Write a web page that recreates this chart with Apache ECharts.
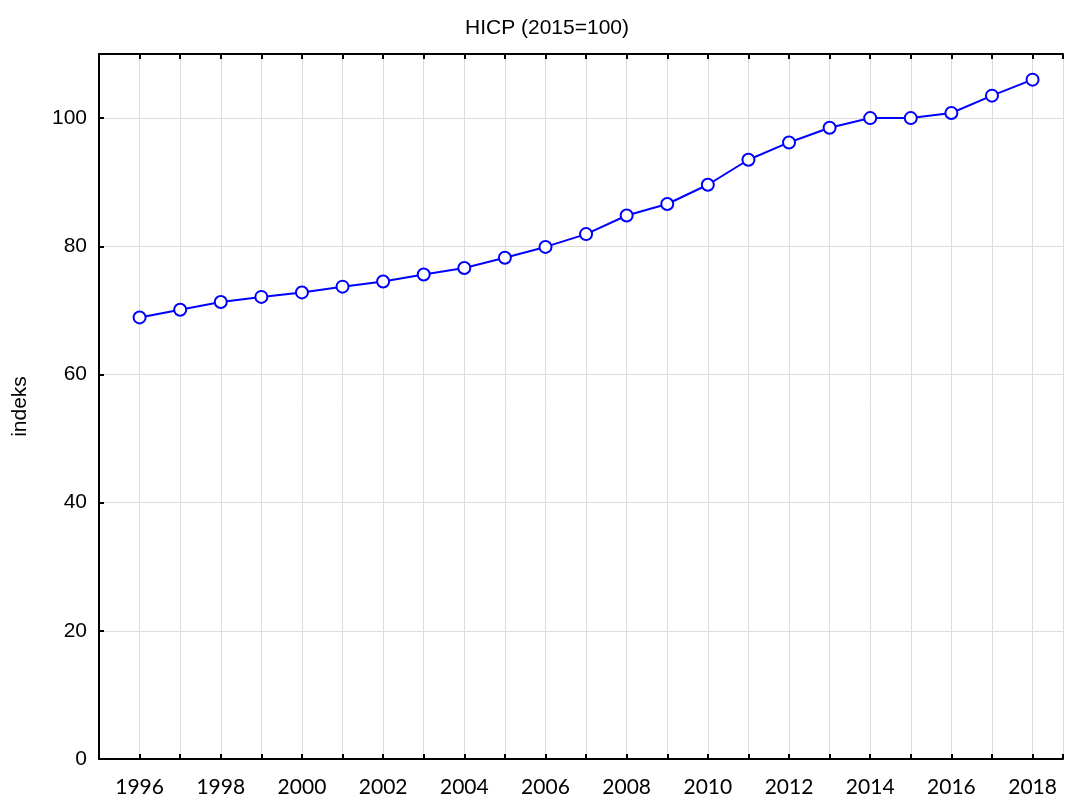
<!DOCTYPE html>
<html>
<head>
<meta charset="utf-8">
<title>HICP (2015=100)</title>
<script src="https://cdn.jsdelivr.net/npm/echarts@6/dist/echarts.min.js"></script>
<style>
  html, body { margin: 0; padding: 0; background: #fff; }
  #chart { width: 1066px; height: 798px; }
</style>
</head>
<body>
<div id="chart"></div>
<script>
// lata i wartości indeksu
var lata = [1996, 1997, 1998, 1999, 2000, 2001, 2002, 2003, 2004, 2005, 2006, 2007,
            2008, 2009, 2010, 2011, 2012, 2013, 2014, 2015, 2016, 2017, 2018];
var hicp = [68.9, 70.1, 71.3, 72.1, 72.8, 73.7, 74.5, 75.6, 76.6, 78.2, 79.9, 81.9,
            84.8, 86.6, 89.6, 93.5, 96.2, 98.5, 100.0, 100.0, 100.8, 103.5, 106.0];
var osY = [0, 20, 40, 60, 80, 100];

var punkty = lata.map(function (rok, i) {
    return [rok, hicp[i]];
});

var chart = echarts.init(document.getElementById('chart'));

// oś X ucięta przy prawej krawędzi obrazka
var xMin = 1995, xMax = 2018.75;

var option = {
    backgroundColor: '#fff',
    animation: false,
    title: {
        text: 'HICP (2015=100)',
        left: 542,
        textAlign: 'center',
        top: 13,
        textStyle: {
            fontFamily: 'Liberation Sans',
            fontWeight: 'normal',
            fontSize: 21,
            color: '#000'
        }
    },
    grid: {
        left: 99,
        top: 54,
        right: 0,
        bottom: 38,
        containLabel: false
    },
    xAxis: [{
        type: 'value',
        min: xMin,
        max: xMax,
        interval: 1,
        axisLine: { onZero: false, lineStyle: { color: '#000', width: 2 } },
        axisTick: { inside: true, length: 5, lineStyle: { color: '#000', width: 2 } },
        splitLine: { show: true, lineStyle: { color: '#dcdcdc', width: 1 } },
        axisLabel: {
            margin: 18,
            fontFamily: 'Lato',
            fontSize: 21,
            color: '#000',
            formatter: function (v) {
                return v % 2 === 0 ? String(v) : '';
            }
        }
    }, {
        type: 'value',
        position: 'top',
        min: xMin,
        max: xMax,
        interval: 1,
        axisLine: { onZero: false, lineStyle: { color: '#000', width: 2 } },
        axisTick: { inside: true, length: 5, lineStyle: { color: '#000', width: 2 } },
        splitLine: { show: false },
        axisLabel: { show: false }
    }],
    yAxis: {
        type: 'value',
        min: 0,
        max: 110,
        interval: 20,
        name: 'indeks',
        nameLocation: 'middle',
        nameGap: 68,
        nameTextStyle: {
            fontFamily: 'Liberation Sans',
            fontSize: 21,
            color: '#000'
        },
        axisLine: { show: true, lineStyle: { color: '#000', width: 2 } },
        axisTick: { inside: true, length: 5, lineStyle: { color: '#000', width: 2 } },
        splitLine: { show: true, lineStyle: { color: '#dcdcdc', width: 1 } },
        axisLabel: {
            margin: 12,
            fontFamily: 'Liberation Sans',
            fontSize: 21,
            color: '#000',
            formatter: function (v) {
                return osY.indexOf(v) >= 0 ? String(v) : '';
            }
        }
    },
    series: [{
        type: 'line',
        data: punkty,
        symbol: 'circle',
        symbolSize: 12,
        lineStyle: { color: '#0000ff', width: 2 },
        itemStyle: { color: '#fff', borderColor: '#0000ff', borderWidth: 2 }
    }]
};

chart.setOption(option);
</script>
</body>
</html>
